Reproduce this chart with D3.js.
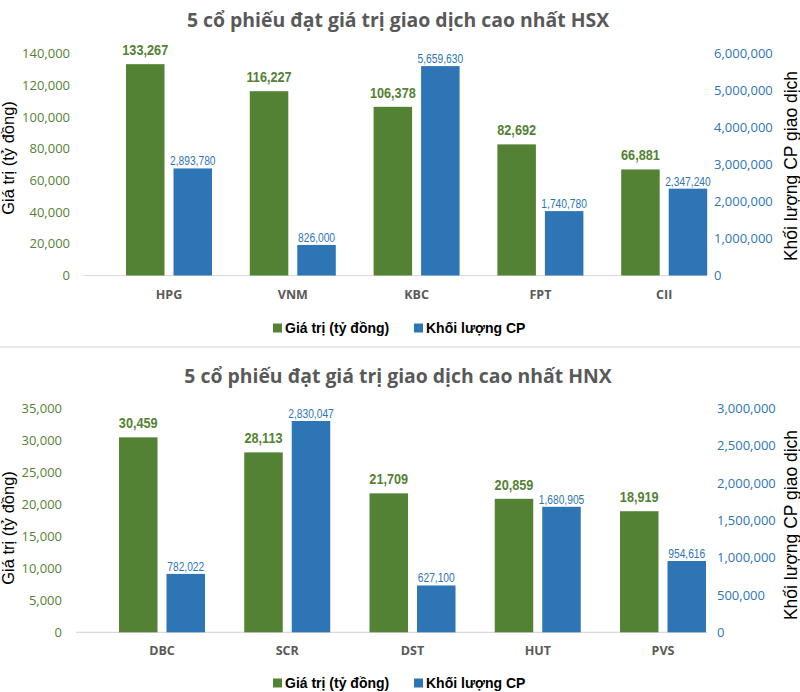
<!DOCTYPE html>
<html>
<head>
<meta charset="utf-8">
<script src="https://cdn.jsdelivr.net/npm/d3@7"></script>
<style>
  html, body { margin: 0; padding: 0; background: #ffffff; }
  svg { display: block; }
</style>
</head>
<body>
<svg id="chart" width="800" height="692"></svg>
<script>
// ---------- DATA ----------
const hsxTitle = "5 cổ phiếu đạt giá trị giao dịch cao nhất HSX";
const hsxCategories = ["HPG", "VNM", "KBC", "FPT", "CII"];
const hsxValue = [133267, 116227, 106378, 82692, 66881];
const hsxVolume = [2893780, 826000, 5659630, 1740780, 2347240];
const hsxLeftTicks = [0, 20000, 40000, 60000, 80000, 100000, 120000, 140000];
const hsxRightTicks = [0, 1000000, 2000000, 3000000, 4000000, 5000000, 6000000];

const hnxTitle = "5 cổ phiếu đạt giá trị giao dịch cao nhất HNX";
const hnxCategories = ["DBC", "SCR", "DST", "HUT", "PVS"];
const hnxValue = [30459, 28113, 21709, 20859, 18919];
const hnxVolume = [782022, 2830047, 627100, 1680905, 954616];
const hnxLeftTicks = [0, 5000, 10000, 15000, 20000, 25000, 30000, 35000];
const hnxRightTicks = [0, 500000, 1000000, 1500000, 2000000, 2500000, 3000000];

const seriesNames = ["Giá trị (tỷ đồng)", "Khối lượng CP"];
const leftAxisTitle = "Giá trị (tỷ đồng)";
const rightAxisTitle = "Khối lượng CP giao dịch";

// ---------- STYLE ----------
const GREEN = "#548235";
const BLUE = "#2E75B6";
const GRAY = "#595959";
const fmt = d3.format(",");
const arial = "'Liberation Sans', Arial, sans-serif";

const svg = d3.select("#chart");

function drawPanel(cfg) {
  const g = svg.append("g");

  // title
  g.append("text")
    .attr("x", 398).attr("y", cfg.titleY)
    .attr("text-anchor", "middle")
    .style("font-family", "'Open Sans', sans-serif")
    .style("font-weight", 700)
    .style("font-size", "19.4px")
    .attr("fill", GRAY)
    .text(cfg.title);

  const yL = d3.scaleLinear().domain([0, cfg.leftTicks[cfg.leftTicks.length - 1]]).range([cfg.y0, cfg.yTop]);
  const yR = d3.scaleLinear().domain([0, cfg.rightTicks[cfg.rightTicks.length - 1]]).range([cfg.y0, cfg.yTop]);
  const x = d3.scaleBand().domain(cfg.categories)
    .range([cfg.c0 - cfg.step / 2, cfg.c0 - cfg.step / 2 + cfg.step * cfg.categories.length])
    .paddingInner(0).paddingOuter(0);
  const cx = d => x(d) + x.bandwidth() / 2;

  // baseline
  g.append("line")
    .attr("x1", cfg.axisX1).attr("x2", cfg.axisX2)
    .attr("y1", cfg.y0).attr("y2", cfg.y0)
    .attr("stroke", "#d9d9d9").attr("stroke-width", 1.2);

  // left axis
  const la = g.append("g").attr("transform", `translate(${cfg.leftTickX},0)`)
    .call(d3.axisLeft(yL).tickValues(cfg.leftTicks).tickSize(0).tickPadding(0).tickFormat(fmt));
  la.select(".domain").remove();
  la.selectAll("text")
    .style("font-family", "'Open Sans', sans-serif")
    .style("font-size", "13px")
    .attr("fill", GREEN);

  // right axis
  const ra = g.append("g").attr("transform", `translate(${cfg.rightTickX},0)`)
    .call(d3.axisRight(yR).tickValues(cfg.rightTicks).tickSize(0).tickPadding(0).tickFormat(fmt));
  ra.select(".domain").remove();
  ra.selectAll("text")
    .style("font-family", "'Open Sans', sans-serif")
    .style("font-size", "13px")
    .attr("fill", BLUE);

  // category axis
  const ca = g.append("g").attr("transform", `translate(0,${cfg.catY})`)
    .call(d3.axisBottom(x).tickSize(0).tickPadding(0));
  ca.select(".domain").remove();
  ca.selectAll("text")
    .style("font-family", "'Open Sans', sans-serif")
    .style("font-weight", 700)
    .style("font-size", "12.5px")
    .attr("fill", GRAY);

  const bw = 38.5;
  // green bars
  g.selectAll(".gbar").data(cfg.categories).join("rect")
    .attr("x", d => cx(d) - 43)
    .attr("width", bw)
    .attr("y", (d, i) => yL(cfg.value[i]))
    .attr("height", (d, i) => cfg.y0 - yL(cfg.value[i]))
    .attr("fill", GREEN);
  // blue bars
  g.selectAll(".bbar").data(cfg.categories).join("rect")
    .attr("x", d => cx(d) + 4.5)
    .attr("width", bw)
    .attr("y", (d, i) => yR(cfg.volume[i]))
    .attr("height", (d, i) => cfg.y0 - yR(cfg.volume[i]))
    .attr("fill", BLUE);

  // green labels (condensed via horizontal scale)
  g.selectAll(".glab").data(cfg.categories).join("text")
    .attr("transform", (d, i) => `translate(${cx(d) - 43 + bw / 2},${yL(cfg.value[i]) - 9}) scale(0.82,1)`)
    .attr("text-anchor", "middle")
    .style("font-family", arial)
    .style("font-weight", 700)
    .style("font-size", "15.5px")
    .attr("fill", GREEN)
    .text((d, i) => fmt(cfg.value[i]));
  // blue labels
  g.selectAll(".blab").data(cfg.categories).join("text")
    .attr("transform", (d, i) => `translate(${cx(d) + 4.5 + bw / 2},${yR(cfg.volume[i]) - 3}) scale(0.82,1)`)
    .attr("text-anchor", "middle")
    .style("font-family", arial)
    .style("font-size", "12.5px")
    .attr("fill", BLUE)
    .text((d, i) => fmt(cfg.volume[i]));

  // axis titles
  g.append("text")
    .attr("transform", `translate(${cfg.leftTitleX},${cfg.leftTitleY}) rotate(-90)`)
    .attr("text-anchor", "middle")
    .style("font-family", arial)
    .style("font-size", "16.5px")
    .attr("fill", "#000")
    .text(leftAxisTitle);
  g.append("text")
    .attr("transform", `translate(${cfg.rightTitleX},${cfg.rightTitleY}) rotate(-90)`)
    .attr("text-anchor", "middle")
    .style("font-family", arial)
    .style("font-size", "17.5px")
    .attr("fill", "#000")
    .text(rightAxisTitle);

  // legend
  const legendItems = [
    { name: seriesNames[0], color: GREEN, x: 273 },
    { name: seriesNames[1], color: BLUE, x: 414 }
  ];
  const lg = g.append("g");
  legendItems.forEach(it => {
    lg.append("rect").attr("x", it.x).attr("y", cfg.legendY - 4.5)
      .attr("width", 9).attr("height", 9).attr("fill", it.color);
    lg.append("text").attr("x", it.x + 12).attr("y", cfg.legendY + 5)
      .style("font-family", arial)
      .style("font-weight", 700)
      .style("font-size", "14px")
      .attr("fill", "#000")
      .text(it.name);
  });
}

drawPanel({
  title: hsxTitle, titleY: 27,
  categories: hsxCategories, value: hsxValue, volume: hsxVolume,
  leftTicks: hsxLeftTicks, rightTicks: hsxRightTicks,
  y0: 275.5, yTop: 53.5,
  c0: 169, step: 123.8,
  axisX1: 83, axisX2: 707,
  leftTickX: 70, rightTickX: 714,
  catY: 290,
  leftTitleX: 14, leftTitleY: 158,
  rightTitleX: 797, rightTitleY: 166,
  legendY: 328
});

svg.append("line").attr("x1", 0).attr("x2", 800).attr("y1", 347).attr("y2", 347)
  .attr("stroke", "#e3e3e3").attr("stroke-width", 1.5);

drawPanel({
  title: hnxTitle, titleY: 383,
  categories: hnxCategories, value: hnxValue, volume: hnxVolume,
  leftTicks: hnxLeftTicks, rightTicks: hnxRightTicks,
  y0: 632.3, yTop: 408.3,
  c0: 162, step: 125.25,
  axisX1: 76, axisX2: 707,
  leftTickX: 62, rightTickX: 717,
  catY: 646,
  leftTitleX: 14, leftTitleY: 528,
  rightTitleX: 797, rightTitleY: 525,
  legendY: 683
});
</script>
</body>
</html>
